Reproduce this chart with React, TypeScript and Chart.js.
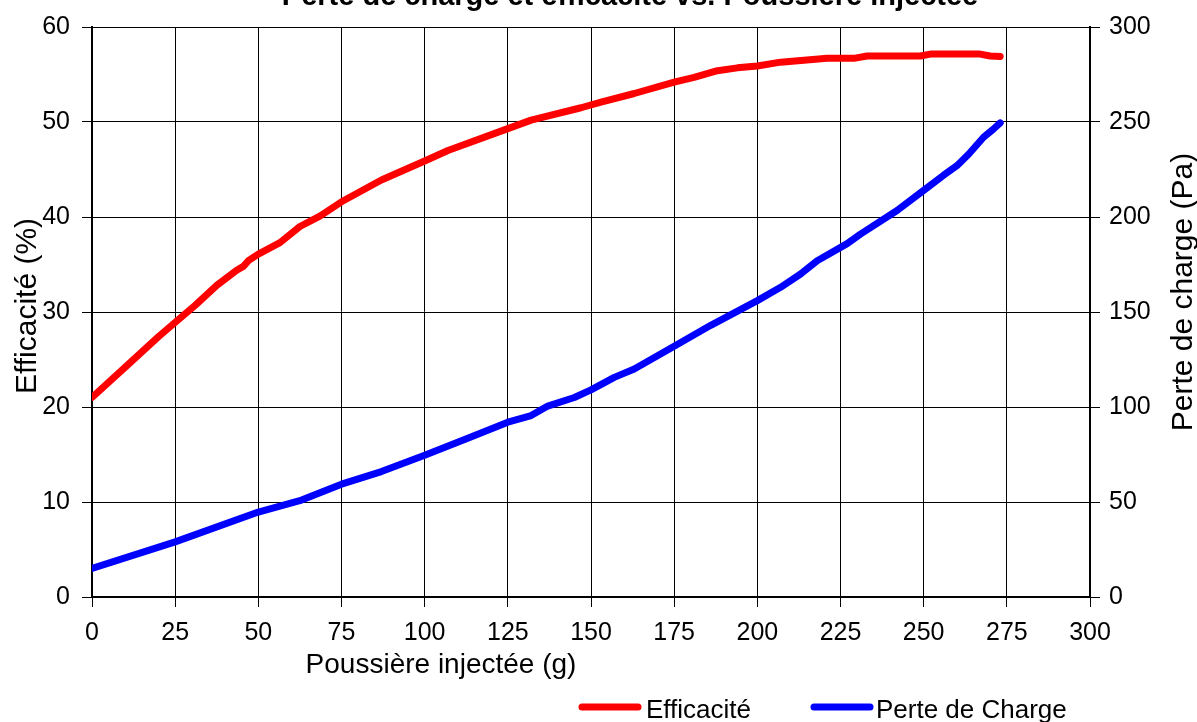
import React, { useEffect, useRef } from "react";
import { Chart, registerables } from "chart.js";

Chart.register(...registerables);

const TITLE = "Perte de charge et efficacité vs. Poussière injectée";
const X_TITLE = "Poussière injectée (g)";
const Y_LEFT_TITLE = "Efficacité (%)";
const Y_RIGHT_TITLE = "Perte de charge (Pa)";
const SERIES_NAMES = ["Efficacité", "Perte de Charge"];
const SERIES_COLORS = ["#ff0000", "#0000ff"];

// Efficacité (%) vs poussière injectée (g)
const effX = [0, 10, 20, 25, 31, 37.5, 43.5, 45.5, 47, 50, 56.5, 62.5, 68.5, 75, 87, 100, 107, 125, 132, 147, 153, 163, 175, 181, 188, 194, 200, 207, 221, 229, 233, 249, 252, 267, 270, 273];
const effY = [21.0, 24.2, 27.4, 28.9, 30.7, 32.8, 34.4, 34.8, 35.4, 36.1, 37.3, 39.0, 40.1, 41.6, 43.9, 45.9, 47.0, 49.3, 50.2, 51.5, 52.1, 53.0, 54.2, 54.7, 55.4, 55.7, 55.9, 56.3, 56.7, 56.7, 56.95, 56.95, 57.15, 57.15, 56.95, 56.9];

// Perte de charge (Pa) vs poussière injectée (g)
const pdcX = [0, 25, 50, 63, 75, 87, 100, 112, 125, 132, 137, 145, 150, 157, 163, 175, 186, 200, 207, 213, 218, 227, 231, 242, 250, 256, 260, 263.5, 268, 271, 273];
const pdcY = [15, 29, 44.7, 51, 59.4, 66, 74.6, 82.9, 92, 95.5, 100.5, 105, 109, 115.6, 120, 132, 143, 156, 163, 170, 177, 186, 191, 203.4, 214, 222, 227, 233, 242, 246.3, 249.5];

const X_MIN = 0, X_MAX = 300, X_STEP = 25;
const YL_MIN = 0, YL_MAX = 60, YL_STEP = 10;
const YR_MIN = 0, YR_MAX = 300, YR_STEP = 50;

const FONT = "'Liberation Sans', Arial, sans-serif";

const textPlugin = {
  id: "textPlugin",
  afterDraw(chart: any) {
    const ctx = chart.ctx;
    ctx.save();
    ctx.fillStyle = "#000";
    // title (partly clipped at top, as in reference)
    ctx.font = `bold 29px ${FONT}`;
    ctx.textAlign = "center";
    ctx.textBaseline = "alphabetic";
    ctx.fillText(TITLE, 630, 5);
    // x axis title
    ctx.font = `28px ${FONT}`;
    ctx.fillText(X_TITLE, 441, 673);
    // left y title
    ctx.font = `30px ${FONT}`;
    ctx.save();
    ctx.translate(36, 306);
    ctx.rotate(-Math.PI / 2);
    ctx.textAlign = "center";
    ctx.fillText(Y_LEFT_TITLE, 0, 0);
    ctx.restore();
    // right y title
    ctx.save();
    ctx.translate(1192, 292);
    ctx.rotate(-Math.PI / 2);
    ctx.textAlign = "center";
    ctx.fillText(Y_RIGHT_TITLE, 0, 0);
    ctx.restore();
    // legend
    const items = [
      { x1: 582, x2: 638, tx: 646 },
      { x1: 814, x2: 870, tx: 876 },
    ];
    ctx.font = `26px ${FONT}`;
    ctx.textAlign = "left";
    items.forEach((it, i) => {
      ctx.strokeStyle = SERIES_COLORS[i];
      ctx.lineWidth = 7;
      ctx.lineCap = "round";
      ctx.beginPath();
      ctx.moveTo(it.x1, 707);
      ctx.lineTo(it.x2, 707);
      ctx.stroke();
      ctx.fillStyle = "#000";
      ctx.fillText(SERIES_NAMES[i], it.tx, 718);
    });
    ctx.restore();
  },
};

export default function App() {
  const ref = useRef<HTMLCanvasElement | null>(null);
  useEffect(() => {
    if (!ref.current) return;
    const chart = new Chart(ref.current, {
      type: "line",
      data: {
        datasets: [
          {
            label: SERIES_NAMES[0],
            data: effX.map((x, i) => ({ x, y: effY[i] })),
            borderColor: SERIES_COLORS[0],
            backgroundColor: SERIES_COLORS[0],
            borderWidth: 7,
            pointRadius: 0,
            borderCapStyle: "round",
            borderJoinStyle: "round",
            tension: 0,
            yAxisID: "y",
          },
          {
            label: SERIES_NAMES[1],
            data: pdcX.map((x, i) => ({ x, y: pdcY[i] })),
            borderColor: SERIES_COLORS[1],
            backgroundColor: SERIES_COLORS[1],
            borderWidth: 7,
            pointRadius: 0,
            borderCapStyle: "round",
            borderJoinStyle: "round",
            tension: 0,
            yAxisID: "y1",
          },
        ],
      },
      options: {
        animation: false,
        responsive: false,
        devicePixelRatio: 1,
        layout: { padding: { top: 26, left: 0, right: 0, bottom: 0 } },
        plugins: { legend: { display: false }, title: { display: false }, tooltip: { enabled: false } },
        scales: {
          x: {
            type: "linear",
            min: X_MIN,
            max: X_MAX,
            ticks: { stepSize: X_STEP, color: "#000", font: { family: FONT, size: 25 }, padding: 11, maxRotation: 0 },
            grid: { color: "#000", lineWidth: 1, tickLength: 10, tickColor: "#000" },
            border: { color: "#000", width: 2 },
            afterFit: (s: any) => { s.height = 125; },
          },
          y: {
            position: "left",
            min: YL_MIN,
            max: YL_MAX,
            ticks: { stepSize: YL_STEP, color: "#000", font: { family: FONT, size: 25 }, padding: 12 },
            grid: { color: "#000", lineWidth: 1, tickLength: 10, tickColor: "#000" },
            border: { color: "#000", width: 2 },
            afterFit: (s: any) => { s.width = 92; },
          },
          y1: {
            position: "right",
            min: YR_MIN,
            max: YR_MAX,
            ticks: { stepSize: YR_STEP, color: "#000", font: { family: FONT, size: 25 }, padding: 9 },
            grid: { drawOnChartArea: false, tickLength: 10, tickColor: "#000" },
            border: { color: "#000", width: 2 },
            afterFit: (s: any) => { s.width = 107; },
          },
        },
      },
      plugins: [textPlugin],
    } as any);
    return () => chart.destroy();
  }, []);
  return (
    <canvas
      ref={ref}
      width={1197}
      height={722}
      style={{ position: "absolute", left: 0, top: 0, width: 1197, height: 722, display: "block" }}
    />
  );
}
